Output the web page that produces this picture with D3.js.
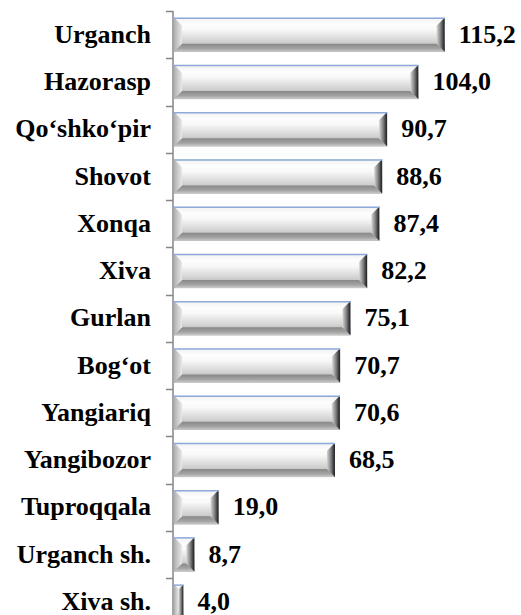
<!DOCTYPE html>
<html>
<head>
<meta charset="utf-8">
<script src="https://cdn.jsdelivr.net/npm/d3@7"></script>
<style>
  body { margin: 0; background: #fff; }
</style>
</head>
<body>
<div id="chart-area"></div>
<script>
// Data
var districts = ["Urganch", "Hazorasp", "Qo\u2018shko\u2018pir", "Shovot", "Xonqa", "Xiva",
    "Gurlan", "Bog\u2018ot", "Yangiariq", "Yangibozor", "Tuproqqala", "Urganch sh.", "Xiva sh."];
var values = [115.2, 104.0, 90.7, 88.6, 87.4, 82.2, 75.1, 70.7, 70.6, 68.5, 19.0, 8.7, 4.0];
var xDomain = [0, 120];

var width = 521, height = 615;
var fontFamily = "Liberation Serif, Times New Roman, serif";

var svg = d3.select("#chart-area")
    .append("svg")
        .attr("width", width)
        .attr("height", height);

var defs = svg.append("defs");

function gradient(id, x2, y2, stops) {
    var g = defs.append("linearGradient")
        .attr("id", id)
        .attr("x1", 0).attr("y1", 0)
        .attr("x2", x2).attr("y2", y2);
    stops.forEach(function(s) {
        g.append("stop").attr("offset", s[0]).attr("stop-color", s[1]);
    });
}
gradient("face", 0, 1, [[0, "#ffffff"], [0.35, "#f9f9f9"], [0.7, "#d2d2d2"], [1, "#a0a0a0"]]);
gradient("topBev", 0, 1, [[0, "#f0f0f0"], [1, "#ffffff"]]);
gradient("botBev", 0, 1, [[0, "#888888"], [0.6, "#a4a4a4"], [1, "#cdcdcd"]]);
gradient("leftBev", 1, 0, [[0, "#b0b0b0"], [1, "#e8e8e8"]]);
gradient("rightBev", 1, 0, [[0, "#d6d6d6"], [0.55, "#767676"], [0.85, "#363636"], [1, "#1e2430"]]);

// Scales
var x = d3.scaleLinear()
    .domain(xDomain)
    .range([174, 456]);

var y = d3.scaleBand()
    .domain(districts)
    .range([11, 11 + 13 * 47.25])
    .paddingInner(0.27)
    .paddingOuter(0.135);

var step = y.step();
var fmt = d3.formatLocale({ decimal: ",", thousands: " ", grouping: [3], currency: ["", ""] }).format(".1f");

// Axis line and ticks (at category boundaries)
var axis = svg.append("g").attr("class", "y axis");
axis.append("line")
    .attr("x1", 173).attr("x2", 173)
    .attr("y1", 11).attr("y2", height)
    .attr("stroke", "#868686")
    .attr("stroke-width", 1.5);
districts.forEach(function(d, i) {
    var ty = Math.round(y.range()[0] + i * step) + 0.5;
    axis.append("line")
        .attr("x1", 166).attr("x2", 173)
        .attr("y1", ty).attr("y2", ty)
        .attr("stroke", "#868686")
        .attr("stroke-width", 1.5);
});

// Category labels
svg.selectAll(".cat")
    .data(districts)
    .enter().append("text")
        .attr("class", "cat")
        .attr("x", 151)
        .attr("y", function(d) { return y(d) + y.bandwidth() / 2; })
        .attr("dy", "0.32em")
        .attr("text-anchor", "end")
        .style("font-family", fontFamily)
        .style("font-weight", "bold")
        .style("font-size", "26px")
        .text(function(d) { return d; });

// Bevelled bars
var bars = svg.selectAll(".bar")
    .data(values)
    .enter().append("g")
        .attr("class", "bar");

bars.each(function(v, i) {
    var g = d3.select(this);
    var x0 = x(0), w = x(v) - x(0);
    var y0 = y(districts[i]), h = y.bandwidth();
    var b = Math.min(8, w / 2);
    var x1 = x0 + w, y1 = y0 + h;

    g.append("rect")
        .attr("x", x0).attr("y", y0)
        .attr("width", w).attr("height", h)
        .attr("fill", "url(#face)");
    g.append("polygon")
        .attr("points", [[x0, y0], [x1, y0], [x1 - b, y0 + b], [x0 + b, y0 + b]].join(" "))
        .attr("fill", "url(#topBev)");
    g.append("polygon")
        .attr("points", [[x0, y1], [x1, y1], [x1 - b, y1 - b], [x0 + b, y1 - b]].join(" "))
        .attr("fill", "url(#botBev)");
    g.append("polygon")
        .attr("points", [[x0, y0], [x0 + b, y0 + b], [x0 + b, y1 - b], [x0, y1]].join(" "))
        .attr("fill", "url(#leftBev)");
    g.append("polygon")
        .attr("points", [[x1, y0], [x1 - b, y0 + b], [x1 - b, y1 - b], [x1, y1]].join(" "))
        .attr("fill", "url(#rightBev)");
    g.append("line")
        .attr("x1", x0).attr("x2", x1)
        .attr("y1", y0 + 0.75).attr("y2", y0 + 0.75)
        .attr("stroke", "#8eaadb")
        .attr("stroke-width", 1.5);
});

// Value labels
svg.selectAll(".val")
    .data(values)
    .enter().append("text")
        .attr("class", "val")
        .attr("x", function(d) { return x(d) + 14; })
        .attr("y", function(d, i) { return y(districts[i]) + y.bandwidth() / 2; })
        .attr("dy", "0.32em")
        .style("font-family", fontFamily)
        .style("font-weight", "bold")
        .style("font-size", "26px")
        .text(function(d) { return fmt(d); });
</script>
</body>
</html>
